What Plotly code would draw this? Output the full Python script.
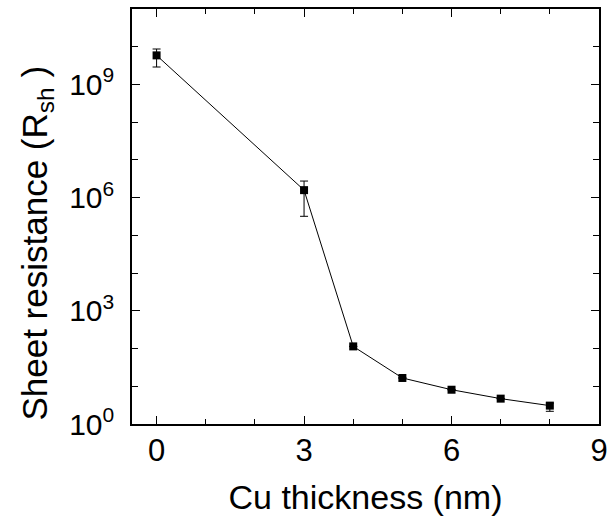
import plotly.graph_objects as go

thickness = [0, 3, 4, 5, 6, 7, 8]
resistance = [5.9e9, 1.58e6, 114, 16.6, 8.1, 4.7, 3.07]
err_plus = [2.8e9, 1.17e6, 0, 0, 0, 0, 0.5]
err_minus = [3.0e9, 1.26e6, 0, 0, 0, 0, 0.9]

x_ticks = [0, 3, 6, 9]
x_minor = [1, 2, 4, 5, 7, 8]
y_ticks = [1, 1e3, 1e6, 1e9]
y_ticktext = ["10<sup>0</sup>", "10<sup>3</sup>", "10<sup>6</sup>", "10<sup>9</sup>"]
y_minor = [1e1, 1e2, 1e4, 1e5, 1e7, 1e8, 1e10]

fig = go.Figure()
fig.add_trace(go.Scatter(
    x=thickness, y=resistance, mode="lines+markers",
    line=dict(color="black", width=1),
    marker=dict(symbol="square", size=8, color="black"),
    error_y=dict(type="data", array=err_plus, arrayminus=err_minus,
                 symmetric=False, color="black", thickness=1, width=4),
    showlegend=False,
))

font = "Liberation Sans, Arial, sans-serif"
fig.update_layout(
    width=615, height=527,
    margin=dict(l=132, r=13, t=7, b=103),
    plot_bgcolor="white", paper_bgcolor="white",
    font=dict(family=font, color="black"),
    xaxis=dict(
        range=[-0.5, 9], tickvals=x_ticks, ticks="inside", ticklen=8, tickwidth=1,
        tickcolor="black", showline=True, linecolor="black", linewidth=1.5,
        mirror="allticks", showgrid=False, zeroline=False,
        tickfont=dict(size=31), ticklabelstandoff=-2,
        minor=dict(tickvals=x_minor, ticks="inside", ticklen=5, tickcolor="black", showgrid=False),
        title=dict(text="Cu thickness (nm)", font=dict(size=34), standoff=18),
    ),
    yaxis=dict(
        type="log", range=[0, 11], tickvals=y_ticks, ticktext=y_ticktext,
        ticks="inside", ticklen=8, tickwidth=1, tickcolor="black",
        showline=True, linecolor="black", linewidth=1.5, mirror="allticks",
        showgrid=False, zeroline=False, tickfont=dict(size=30), ticklabelstandoff=10,
        minor=dict(tickvals=y_minor, ticks="inside", ticklen=6, tickcolor="black", showgrid=False),
    ),
    annotations=[dict(
        text="Sheet resistance (R<sub>sh</sub> )", textangle=-90,
        xref="paper", yref="paper", x=-0.204, y=0.4365,
        xanchor="center", yanchor="middle", showarrow=False,
        font=dict(size=35, family=font, color="black"),
    )],
)

fig.write_html("out.html")
